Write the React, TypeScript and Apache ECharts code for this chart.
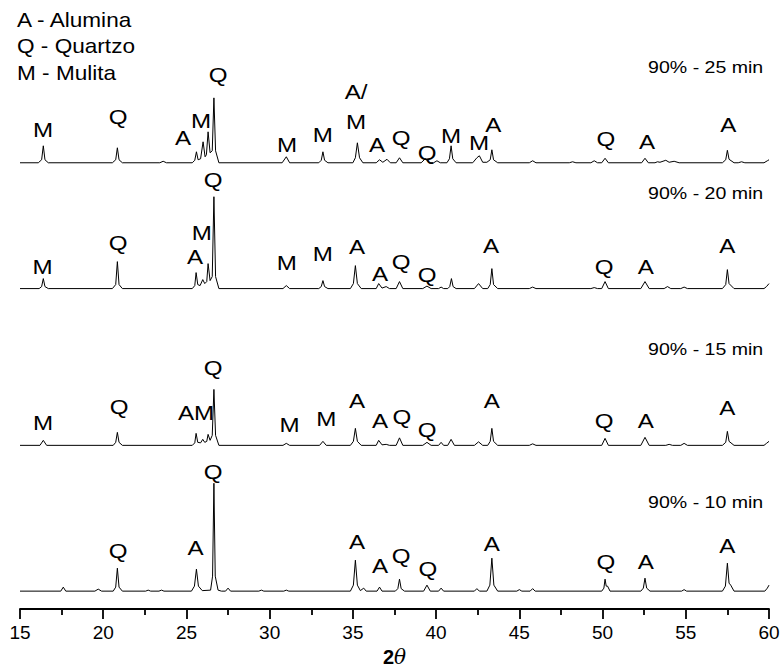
import React, { useEffect, useRef } from "react";
import * as echarts from "echarts";

const FONT = "'Liberation Sans', Arial, sans-serif";

const sampleNames = ["90% - 25 min", "90% - 20 min", "90% - 15 min", "90% - 10 min"];
const baselineOffsets = [447, 321, 164, 18];
const titleHeights = [96, 96, 97, 89];
const legendLines = ["A - Alumina", "Q - Quartzo", "M - Mulita"];
const xTicks = [15, 20, 25, 30, 35, 40, 45, 50, 55, 60];

// [2θ, intensity above baseline]
const trace25 = [
  [15, 0], [16.1, 0], [16.3, 3], [16.4, 17], [16.5, 3], [16.7, 0],
  [20.55, 0], [20.75, 3], [20.85, 15], [20.95, 3], [21.15, 0],
  [23.4, 0], [23.6, 1.5], [23.8, 0],
  [25.35, 0], [25.5, 2.5], [25.6, 11], [25.7, 3],
  [25.85, 4], [26.0, 21], [26.12, 6],
  [26.2, 8], [26.3, 31], [26.42, 10],
  [26.55, 12], [26.65, 65], [26.75, 12], [26.95, 0],
  [30.75, 0], [31.0, 6], [31.2, 0],
  [32.95, 0], [33.1, 2.5], [33.2, 11], [33.3, 2.5], [33.5, 0],
  [35.0, 0], [35.15, 5], [35.27, 20], [35.4, 5], [35.6, 0],
  [36.4, 0], [36.6, 3], [36.8, 0.5], [37.05, 3.5], [37.25, 0],
  [37.6, 0], [37.8, 5], [38.0, 0],
  [39.1, 0], [39.35, 4], [39.6, 0], [39.85, 0], [40.05, 2], [40.25, 0],
  [40.65, 0], [40.8, 4], [40.9, 17], [41.0, 4], [41.2, 0],
  [42.2, 0], [42.45, 5], [42.6, 7], [42.8, 0.5],
  [43.05, 0.5], [43.25, 3], [43.35, 13], [43.45, 3], [43.7, 0],
  [45.6, 0], [45.8, 2], [46.0, 0],
  [48.0, 0], [48.2, 1], [48.4, 0],
  [49.3, 0], [49.5, 2], [49.7, 0],
  [49.95, 0], [50.15, 4.5], [50.35, 0],
  [52.35, 0], [52.55, 4.5], [52.75, 0],
  [53.15, 0], [53.3, 1], [53.45, 0.5], [53.8, 2.5], [54.0, 0.5], [54.3, 1.5], [54.6, 0],
  [57.2, 0], [57.4, 3], [57.5, 12.5], [57.6, 3.5], [57.9, 0],
  [58.15, 0], [58.35, 1], [58.55, 0],
  [59.7, 0], [59.9, 2], [60, 3],
];

const trace20 = [
  [15, 0], [16.15, 0], [16.3, 2], [16.4, 10], [16.5, 2], [16.7, 0],
  [20.55, 0], [20.75, 4], [20.85, 27], [20.95, 4], [21.15, 0],
  [25.35, 0], [25.5, 3], [25.58, 16], [25.68, 4],
  [25.82, 3], [25.98, 9], [26.1, 5],
  [26.22, 7], [26.3, 25], [26.42, 8],
  [26.55, 12], [26.65, 92], [26.75, 12], [26.95, 0],
  [30.8, 0], [31.0, 3], [31.2, 0],
  [32.95, 0], [33.1, 2], [33.2, 8], [33.3, 2], [33.5, 0],
  [34.85, 0], [35.03, 5], [35.15, 23], [35.27, 5], [35.5, 0],
  [36.4, 0], [36.55, 5], [36.75, 0.5], [37.0, 2], [37.2, 0],
  [37.6, 0], [37.8, 7], [38.0, 0],
  [39.2, 0], [39.45, 2.5], [39.7, 0],
  [40.15, 0], [40.3, 1.5], [40.45, 0],
  [40.7, 0], [40.82, 2], [40.92, 10], [41.02, 2], [41.2, 0],
  [42.3, 0], [42.55, 5], [42.8, 0],
  [43.1, 0], [43.25, 4], [43.35, 20], [43.45, 4], [43.7, 0],
  [45.6, 0], [45.8, 1.5], [46.0, 0],
  [49.3, 0], [49.5, 1], [49.7, 0],
  [49.95, 0], [50.15, 7], [50.35, 0],
  [52.3, 0], [52.55, 7], [52.8, 0],
  [53.7, 0], [53.9, 2], [54.1, 0],
  [54.7, 0], [54.9, 1.5], [55.1, 0],
  [57.2, 0], [57.4, 4], [57.5, 19], [57.6, 5], [57.9, 0],
  [59.7, 0], [59.85, 2], [60, 5],
];

const trace15 = [
  [15, 0], [16.2, 0], [16.4, 5], [16.6, 0],
  [20.6, 0], [20.75, 3], [20.85, 13], [20.95, 3], [21.15, 0],
  [25.35, 0], [25.5, 2.5], [25.58, 12], [25.68, 3],
  [25.85, 2.5], [25.98, 6], [26.1, 3],
  [26.22, 4], [26.3, 11], [26.42, 5],
  [26.55, 10], [26.65, 56], [26.75, 10], [26.95, 0],
  [30.8, 0], [31.0, 2], [31.2, 0],
  [33.0, 0], [33.2, 4], [33.4, 0],
  [34.85, 0], [35.03, 4], [35.15, 17], [35.27, 4], [35.5, 0],
  [36.4, 0], [36.55, 5], [36.75, 0.5], [37.0, 1], [37.2, 0],
  [37.6, 0], [37.8, 7.5], [38.0, 0],
  [39.2, 0], [39.45, 3], [39.7, 0],
  [40.15, 0], [40.3, 3], [40.45, 0],
  [40.7, 0], [40.9, 6], [41.1, 0],
  [42.3, 0], [42.55, 3.5], [42.8, 0],
  [43.1, 0], [43.25, 4], [43.35, 17], [43.45, 4], [43.7, 0],
  [45.6, 0], [45.8, 1.5], [46.0, 0],
  [49.95, 0], [50.15, 7], [50.35, 0],
  [52.3, 0], [52.55, 8], [52.8, 0],
  [53.8, 0], [54.0, 1], [54.2, 0],
  [54.7, 0], [54.9, 2], [55.1, 0],
  [57.2, 0], [57.4, 3], [57.5, 14], [57.6, 4], [57.9, 0],
  [59.7, 0], [59.85, 2], [60, 4],
];

const trace10 = [
  [15, 0], [17.45, 0], [17.6, 4], [17.75, 0],
  [19.5, 0], [19.7, 2], [19.9, 0],
  [20.6, 0], [20.75, 4], [20.85, 23], [20.95, 4], [21.15, 0],
  [22.55, 0], [22.7, 1], [22.85, 0],
  [23.35, 0], [23.5, 1], [23.65, 0],
  [25.3, 0], [25.48, 5], [25.6, 22], [25.72, 5], [25.95, 0.5],
  [26.45, 1], [26.57, 15], [26.65, 108], [26.73, 15], [26.9, 1], [27.1, 0],
  [27.35, 0], [27.5, 3], [27.65, 0],
  [29.35, 0], [29.5, 1], [29.65, 0],
  [30.85, 0], [31.0, 1], [31.15, 0],
  [34.85, 0], [35.03, 6], [35.15, 31], [35.27, 6], [35.45, 0.5], [35.65, 3], [35.8, 0],
  [36.45, 0], [36.6, 4], [36.75, 0],
  [37.55, 0], [37.7, 2.5], [37.8, 12], [37.9, 2.5], [38.1, 0],
  [39.25, 0], [39.45, 6], [39.65, 0],
  [40.15, 0], [40.3, 3], [40.45, 0],
  [42.3, 0], [42.45, 2.5], [42.6, 0],
  [43.05, 0], [43.23, 6], [43.35, 33], [43.47, 6], [43.7, 0],
  [44.85, 0], [45.0, 1.5], [45.15, 0],
  [45.65, 0], [45.8, 2.5], [45.95, 0],
  [49.95, 0], [50.08, 3], [50.15, 12], [50.22, 5], [50.3, 5], [50.45, 0],
  [52.3, 0], [52.45, 3], [52.55, 13], [52.65, 3], [52.85, 0],
  [54.75, 0], [54.9, 1.5], [55.05, 0],
  [57.2, 0], [57.38, 5], [57.5, 28], [57.6, 8], [57.7, 6], [57.9, 0],
  [59.75, 0], [59.9, 3], [60, 6],
];

// [2θ, label height above baseline, phase]
const labels25 = [
  [16.38, 33, "M"], [20.89, 46, "Q"], [24.8, 25, "A"], [25.88, 42, "M"], [26.9, 88, "Q"],
  [31.05, 18, "M"], [33.2, 28, "M"], [35.19, 71, "A/"], [35.19, 41, "M"], [36.45, 18, "A"],
  [37.9, 25, "Q"], [39.46, 10, "Q"], [40.9, 27, "M"], [42.58, 20, "M"], [43.43, 38, "A"],
  [50.2, 24, "Q"], [52.68, 21, "A"], [57.55, 38, "A"],
];
const labels20 = [
  [16.36, 22, "M"], [20.89, 46, "Q"], [25.52, 32, "A"], [25.92, 56, "M"], [26.6, 109, "Q"],
  [31.03, 26, "M"], [33.2, 35, "M"], [35.25, 42, "A"], [36.63, 15, "A"], [37.9, 27, "Q"],
  [39.46, 14, "Q"], [43.3, 43, "A"], [50.1, 22, "Q"], [52.6, 22, "A"], [57.5, 43, "A"],
];
const labels15 = [
  [16.38, 22, "M"], [20.95, 38, "Q"], [24.98, 32, "A"], [26.06, 32, "M"], [26.6, 77, "Q"],
  [31.2, 20, "M"], [33.4, 26, "M"], [35.25, 44, "A"], [36.63, 24, "A"], [37.95, 28, "Q"],
  [39.46, 15, "Q"], [43.35, 44, "A"], [50.1, 24, "Q"], [52.6, 24, "A"], [57.5, 37, "A"],
];
const labels10 = [
  [20.89, 40, "Q"], [25.55, 43, "A"], [26.6, 119, "Q"], [35.25, 49, "A"], [36.63, 25, "A"],
  [37.9, 35, "Q"], [39.5, 22, "Q"], [43.35, 47, "A"], [50.2, 29, "Q"], [52.6, 29, "A"],
  [57.5, 45, "A"],
];

export default function App() {
  const ref = useRef<HTMLDivElement>(null);
  useEffect(() => {
    if (!ref.current) return;
    const chart = echarts.init(ref.current, null, { renderer: "svg" });
    const traces = [trace25, trace20, trace15, trace10];
    const labelSets = [labels25, labels20, labels15, labels10];
    const series = traces.map((t, i) => ({
      type: "line",
      name: sampleNames[i],
      data: t.map(([x, y]) => [x, y + baselineOffsets[i]]),
      symbol: "none",
      showSymbol: false,
      silent: true,
      lineStyle: { color: "#000", width: 1 },
    }));
    chart.setOption({
      animation: false,
      backgroundColor: "#fff",
      grid: { left: 20, right: 15, top: 11, bottom: 62, containLabel: false },
      xAxis: {
        type: "value",
        min: xTicks[0],
        max: xTicks[xTicks.length - 1],
        interval: 5,
        name: "{b|2}{t|θ}",
        nameLocation: "middle",
        nameGap: 35,
        nameTextStyle: {
          rich: {
            b: { fontWeight: "bold", fontSize: 20, fontFamily: FONT, color: "#000" },
            t: { fontStyle: "italic", fontSize: 20, fontFamily: "'DejaVu Serif', serif", color: "#000" },
          },
        },
        axisLine: { show: true, lineStyle: { color: "#000", width: 1.8 } },
        axisTick: { show: true, length: 10, lineStyle: { color: "#000", width: 1.8 } },
        minorTick: { show: true, splitNumber: 2, length: 6, lineStyle: { color: "#000", width: 1.8 } },
        splitLine: { show: false },
        minorSplitLine: { show: false },
        axisLabel: { fontSize: 19, fontFamily: FONT, color: "#000", margin: 14 },
      },
      yAxis: {
        type: "value",
        min: 0,
        max: 599,
        show: false,
        splitLine: { show: false },
      },
      series,
    });

    const graphics: any[] = [];
    legendLines.forEach((t, i) => {
      graphics.push({
        type: "text",
        x: 17,
        y: 20 + i * 26.5,
        scaleX: 1.13,
        style: { text: t, x: 0, y: 0, align: "left", verticalAlign: "middle", fontSize: 20, fontFamily: FONT, fill: "#000" },
      });
    });
    labelSets.forEach((set, i) => {
      set.forEach(([x, h, t]) => {
        const p = chart.convertToPixel({ gridIndex: 0 }, [x as number, (h as number) + baselineOffsets[i]]) as number[];
        graphics.push({
          type: "text",
          x: p[0],
          y: p[1],
          scaleX: 1.15,
          style: { text: t, x: 0, y: 0, align: "center", verticalAlign: "middle", fontSize: 21, fontFamily: FONT, fill: "#000" },
        });
      });
    });
    sampleNames.forEach((t, i) => {
      const p = chart.convertToPixel({ gridIndex: 0 }, [59.65, titleHeights[i] + baselineOffsets[i]]) as number[];
      graphics.push({
        type: "text",
        x: p[0],
        y: p[1],
        scaleX: 1.15,
        style: { text: t, x: 0, y: 0, align: "right", verticalAlign: "middle", fontSize: 17, fontFamily: FONT, fill: "#000" },
      });
    });
    chart.setOption({ graphic: graphics });
    return () => chart.dispose();
  }, []);
  return <div ref={ref} style={{ position: "fixed", left: 0, top: 0, width: 784, height: 672 }} />;
}
